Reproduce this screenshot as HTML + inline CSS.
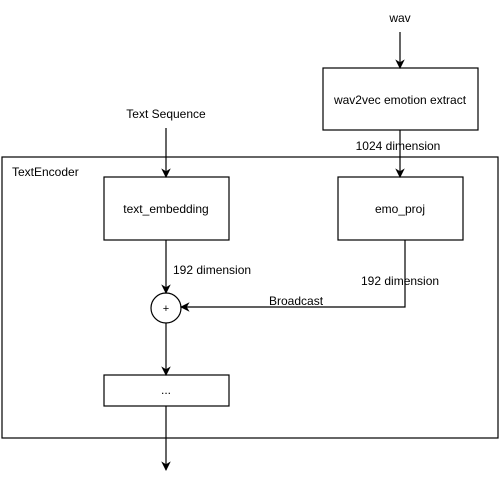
<!DOCTYPE html>
<html><head><style>body{margin:0;background:#fff}</style></head><body>
<svg width="500" height="489" xmlns="http://www.w3.org/2000/svg" font-family="Liberation Sans, sans-serif" font-size="12">
<defs><marker id="a" viewBox="0 0 10 10" refX="9" refY="5" markerWidth="8" markerHeight="8" orient="auto"><path d="M0,0 L10,5 L0,10 L3,5 z" fill="#000"/></marker></defs>
<g stroke="#000" stroke-width="1.2" fill="none">
<rect x="2" y="157" width="496" height="281"/>
<rect x="104" y="177" width="125" height="63" fill="#fff"/>
<rect x="338" y="177" width="125" height="63" fill="#fff"/>
<rect x="323" y="68" width="155" height="62" fill="#fff"/>
<rect x="104" y="375" width="125" height="31" fill="#fff"/>
<circle cx="166" cy="308" r="15" fill="#fff"/>
<line x1="400" y1="32" x2="400" y2="68" marker-end="url(#a)"/>
<line x1="400" y1="130" x2="400" y2="177" marker-end="url(#a)"/>
<line x1="166" y1="128" x2="166" y2="177" marker-end="url(#a)"/>
<line x1="166" y1="240" x2="166" y2="293" marker-end="url(#a)"/>
<polyline points="405,240 405,307 181,307" marker-end="url(#a)"/>
<line x1="166" y1="323" x2="166" y2="375" marker-end="url(#a)"/>
<line x1="166" y1="406" x2="166" y2="470" marker-end="url(#a)"/>
</g>
<g fill="#000">
<text x="400" y="22" text-anchor="middle">wav</text>
<text x="400" y="104" text-anchor="middle">wav2vec emotion extract</text>
<text x="398" y="150" text-anchor="middle">1024 dimension</text>
<text x="166" y="118" text-anchor="middle">Text Sequence</text>
<text x="12" y="176">TextEncoder</text>
<text x="166" y="213" text-anchor="middle">text_embedding</text>
<text x="400" y="213" text-anchor="middle">emo_proj</text>
<text x="173" y="274">192 dimension</text>
<text x="361" y="285">192 dimension</text>
<text x="269" y="305">Broadcast</text>
<text x="166" y="312" text-anchor="middle" font-size="11">+</text>
<text x="166" y="394" text-anchor="middle">...</text>
</g>
</svg>
</body></html>
